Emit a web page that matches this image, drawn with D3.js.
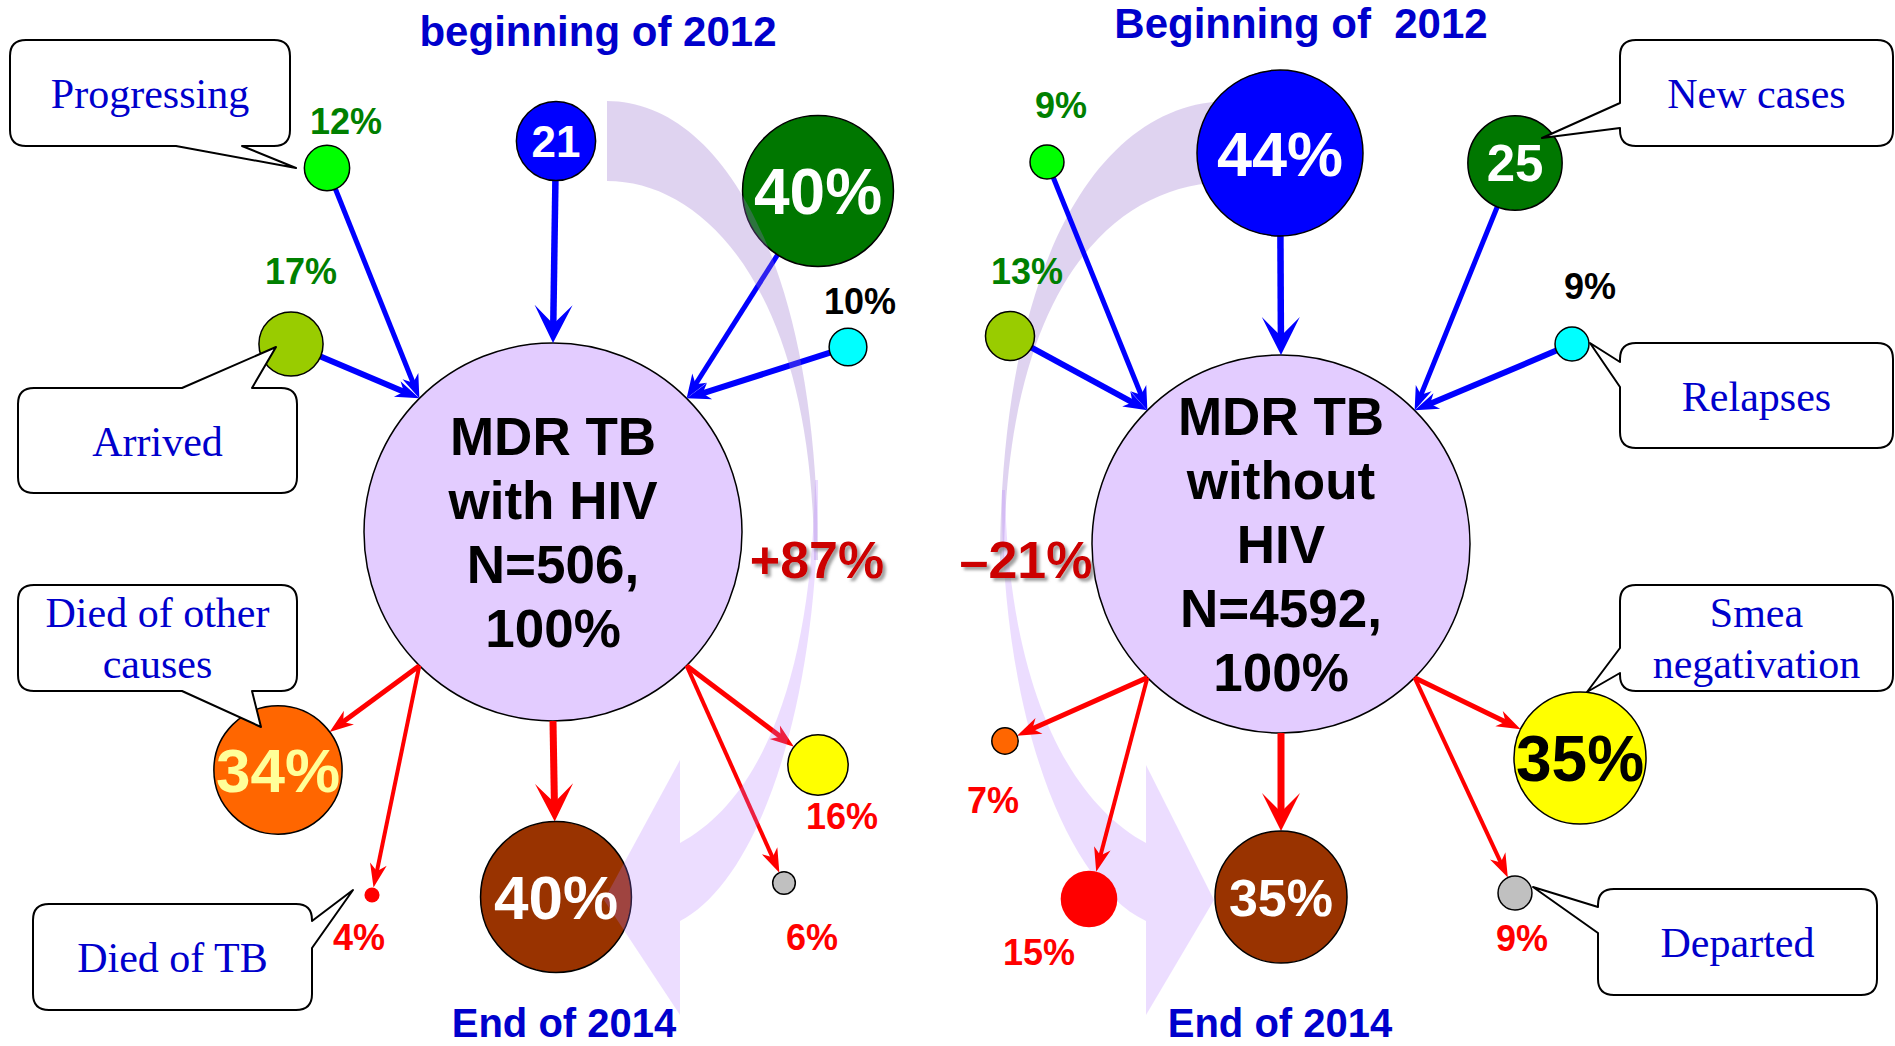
<!DOCTYPE html>
<html>
<head>
<meta charset="utf-8">
<script src="https://cdn.jsdelivr.net/npm/d3@7"></script>
<style>
body { margin: 0; background: #fff; }
svg { display: block; }
</style>
</head>
<body>
<svg id="chart" width="1895" height="1046"></svg>
<script>
//==================================================
// data
var centerText = [["MDR TB", "with HIV", "N=506,", "100%"],
                  ["MDR TB", "without", "HIV", "N=4592,", "100%"]];
var startTitles = ["beginning of 2012", "Beginning of  2012"];
var endTitles = ["End of 2014", "End of 2014"];
var changeText = ["+87%", "\u201321%"];

// flows into the cohort (order: progressing, arrived, at start, new cases, relapses)
var inCategories = ["Progressing", "Arrived", "At start", "New cases", "Relapses"];
var inHIV = [12, 17, 21, 40, 10];
var inNoHIV = [9, 13, 44, 25, 9];
var inHIVText = ["12%", "17%", "21", "40%", "10%"];
var inNoHIVText = ["9%", "13%", "44%", "25", "9%"];

// flows out of the cohort
var outCategories = ["Died of other\ncauses", "Died of TB", "Remaining", "Smea\nnegativation", "Departed"];
var outHIV = [34, 4, 40, 16, 6];
var outNoHIV = [7, 15, 35, 35, 9];
var outHIVText = ["34%", "4%", "40%", "16%", "6%"];
var outNoHIVText = ["7%", "15%", "35%", "35%", "9%"];

//==================================================
// layout + styles
var centers = [[553, 532], [1281, 544]];
var mainR = 189;
var inAttach = [-135, -135, -90, -45, -45];
var outAttach = [135, 135, 90, 45, 45];
var inPos = [[[-226, -364], [-262, -188], [3, -391], [265, -341], [295, -185]],
             [[-234, -382], [-271, -208], [-1, -391], [234, -381], [291, -200]]];
var outPos = [[[-275, 238], [-181, 363], [3, 365], [265, 233], [231, 351]],
              [[-276, 197], [-192, 355], [0, 353], [299, 214], [234, 349]]];
var inLbl = [[[19, -47], [10, -73], null, null, [12, -46]],
             [[14, -57], [17, -65], null, null, [18, -58]]];
var outLbl = [[null, [-13, 42], null, [24, 51], [28, 54]],
              [[-12, 59], [-50, 53], null, null, [7, 45]]];
var inFont = [[0, 0, 44, 64, 0], [0, 0, 63, 51, 0]];
var outFont = [[62, 0, 62, 0, 0], [0, 0, 52, 64, 0]];
var inWidth = [5, 6, 6.5, 5, 6];
var outWidth = [5, 4, 7, 5, 4];

var inFill = ["#00ff00", "#99cc00", "#0000ff", "#007700", "#00ffff"];
var outFill = ["#ff6600", "#ff0000", "#993300", "#ffff00", "#c0c0c0"];
var outStroke = ["#000", "none", "#000", "#000", "#000"];
var inLblColor = ["#008000", "#008000", "#fff", "#fff", "#000"];
var outLblColor = ["#ffff99", "#ff0000", "#fff", "#000", "#ff0000"];
var outsideOut = "#ff0000";
var changeX = [817, 1026];
var bandsOnTop = [true, false];

var bandTop = [
    {o: [[607, 101], [720, 101], [818, 260], [818, 560]], i: [[814, 560], [814, 300], [710, 181], [607, 181]]},
    {o: [[1230, 101], [1100, 101], [1000, 260], [1000, 565]], i: [[1004, 565], [1004, 300], [1105, 182], [1230, 182]]}
];
var bandLow = [
    {o: [[818, 480], [820, 700], [760, 880], [680, 921]], i: [[680, 843], [760, 800], [812, 680], [815, 480]],
     head: [[680, 760], [604, 900], [680, 1015]]},
    {o: [[1002, 490], [1000, 700], [1060, 880], [1146, 921]], i: [[1146, 843], [1066, 800], [1008, 680], [1005, 490]],
     head: [[1146, 765], [1214, 900], [1146, 1015]]}
];

var callouts = [
    {panel: 0, dir: "in", i: 0, box: [10, 40, 280, 106], side: "bottom", a: 176, b: 242, tip: [-31, 0]},
    {panel: 0, dir: "in", i: 1, box: [18, 388, 279, 105], side: "top", a: 182, b: 252, tip: [-15, 3]},
    {panel: 0, dir: "out", i: 0, box: [18, 585, 279, 106], side: "bottom", a: 182, b: 252, tip: [-17, -43]},
    {panel: 0, dir: "out", i: 1, box: [33, 904, 279, 106], side: "right", a: 921, b: 948, tip: [-19, -5]},
    {panel: 1, dir: "in", i: 3, box: [1620, 40, 273, 106], side: "left", a: 103, b: 128, tip: [27, -25]},
    {panel: 1, dir: "in", i: 4, box: [1620, 343, 273, 105], side: "left", a: 362, b: 387, tip: [18, -1]},
    {panel: 1, dir: "out", i: 3, box: [1620, 585, 273, 106], side: "left", a: 648, b: 673, tip: [7, -66]},
    {panel: 1, dir: "out", i: 4, box: [1598, 889, 279, 106], side: "left", a: 907, b: 933, tip: [18, -6]}
];

var sans = "'Liberation Sans', Arial, Helvetica, sans-serif";
var serif = "'Liberation Serif', 'Times New Roman', serif";
var blueText = "#0000cc";

//==================================================
var svg = d3.select("#chart");
var rScale = d3.scaleLinear().domain([0, 44]).range([0, 83]);

var defs = svg.append("defs");
defs.append("filter").attr("id", "shadow")
    .attr("x", "-20%").attr("y", "-30%").attr("width", "150%").attr("height", "170%")
    .append("feDropShadow")
    .attr("dx", 3).attr("dy", 3).attr("stdDeviation", 1.5)
    .attr("flood-color", "#777").attr("flood-opacity", 0.7);

svg.append("rect").attr("width", 1895).attr("height", 1046).attr("fill", "#fff");

var inVals = [inHIV, inNoHIV], inTexts = [inHIVText, inNoHIVText];
var outVals = [outHIV, outNoHIV], outTexts = [outHIVText, outNoHIVText];

function polar(c, deg, r) {
    var a = deg * Math.PI / 180;
    return [c[0] + r * Math.cos(a), c[1] + r * Math.sin(a)];
}

// build the node list from the arrays
var nodes = [];
[0, 1].forEach(function(p) {
    var c = centers[p];
    inVals[p].forEach(function(v, i) {
        nodes.push({panel: p, dir: "in", i: i, value: v, text: inTexts[p][i],
            x: c[0] + inPos[p][i][0], y: c[1] + inPos[p][i][1], r: rScale(v),
            fill: inFill[i], stroke: "#000", attach: polar(c, inAttach[i], mainR),
            width: inWidth[i], font: inFont[p][i], lbl: inLbl[p][i],
            color: inLblColor[i]});
    });
    outVals[p].forEach(function(v, i) {
        nodes.push({panel: p, dir: "out", i: i, value: v, text: outTexts[p][i],
            x: c[0] + outPos[p][i][0], y: c[1] + outPos[p][i][1], r: rScale(v),
            fill: outFill[i], stroke: outStroke[i], attach: polar(c, outAttach[i], mainR),
            width: outWidth[i], font: outFont[p][i], lbl: outLbl[p][i],
            color: v >= 20 ? outLblColor[i] : outsideOut});
    });
});

function arrow(g, s, t, color, w, big) {
    var dx = t[0] - s[0], dy = t[1] - s[1], len = Math.sqrt(dx * dx + dy * dy);
    var ux = dx / len, uy = dy / len, nx = -uy, ny = ux;
    var L = big ? 38 : 24, hw = big ? 19 : 8.5, notch = big ? 0.5 : 0.7;
    g.append("line")
        .attr("x1", s[0]).attr("y1", s[1])
        .attr("x2", t[0] - (notch - 0.08) * L * ux).attr("y2", t[1] - (notch - 0.08) * L * uy)
        .attr("stroke", color).attr("stroke-width", w);
    var p = d3.path();
    p.moveTo(t[0], t[1]);
    p.lineTo(t[0] - L * ux + hw * nx, t[1] - L * uy + hw * ny);
    p.lineTo(t[0] - notch * L * ux, t[1] - notch * L * uy);
    p.lineTo(t[0] - L * ux - hw * nx, t[1] - L * uy - hw * ny);
    p.closePath();
    g.append("path").attr("d", p.toString()).attr("fill", color);
}

function cubicPath(o, i) {
    var p = d3.path();
    p.moveTo(o[0][0], o[0][1]);
    p.bezierCurveTo(o[1][0], o[1][1], o[2][0], o[2][1], o[3][0], o[3][1]);
    p.lineTo(i[0][0], i[0][1]);
    p.bezierCurveTo(i[1][0], i[1][1], i[2][0], i[2][1], i[3][0], i[3][1]);
    p.closePath();
    return p.toString();
}

function drawBands(g, p) {
    g.append("path").attr("d", cubicPath(bandTop[p].o, bandTop[p].i))
        .attr("fill", "rgb(150,110,205)").attr("fill-opacity", 0.3);
    var low = g.append("g").attr("fill", "rgb(180,120,255)").attr("fill-opacity", 0.25);
    low.append("path").attr("d", cubicPath(bandLow[p].o, bandLow[p].i));
    var h = bandLow[p].head;
    low.append("path").attr("d", "M" + h.map(function(d) { return d.join(","); }).join("L") + "Z");
}

[0, 1].forEach(function(p) {
    var c = centers[p];
    var g = svg.append("g").attr("class", "panel");
    var bandG = g.append("g");
    if (!bandsOnTop[p]) drawBands(bandG, p);

    // big cohort circle
    g.append("circle").attr("cx", c[0]).attr("cy", c[1]).attr("r", mainR)
        .attr("fill", "#e3ccff").attr("stroke", "#000").attr("stroke-width", 1.5);

    var pn = nodes.filter(function(d) { return d.panel == p; });

    // arrows
    var ag = g.append("g");
    pn.forEach(function(d) {
        var ax = d.attach[0], ay = d.attach[1];
        var dx = d.x - ax, dy = d.y - ay, len = Math.sqrt(dx * dx + dy * dy);
        var edge = [d.x - d.r * dx / len, d.y - d.r * dy / len];
        if (d.dir == "in") arrow(ag, edge, d.attach, "#0000ff", d.width, d.i == 2);
        else arrow(ag, d.attach, edge, "#ff0000", d.width, d.i == 2);
    });

    // flow circles
    g.append("g").selectAll("circle").data(pn).enter().append("circle")
        .attr("cx", function(d) { return d.x; })
        .attr("cy", function(d) { return d.y; })
        .attr("r", function(d) { return d.r; })
        .attr("fill", function(d) { return d.fill; })
        .attr("stroke", function(d) { return d.stroke; })
        .attr("stroke-width", 1.5);

    if (bandsOnTop[p]) drawBands(g.append("g"), p);

    // values inside the large circles
    g.append("g").selectAll("text").data(pn.filter(function(d) { return d.value >= 20; }))
        .enter().append("text")
        .attr("x", function(d) { return d.x; })
        .attr("y", function(d) { return d.y + 0.36 * d.font; })
        .attr("text-anchor", "middle")
        .style("font-family", sans).style("font-weight", "bold")
        .style("font-size", function(d) { return d.font + "px"; })
        .attr("fill", function(d) { return d.color; })
        .text(function(d) { return d.text; });

    // values next to the small circles
    g.append("g").selectAll("text").data(pn.filter(function(d) { return d.value < 20; }))
        .enter().append("text")
        .attr("x", function(d) { return d.x + d.lbl[0]; })
        .attr("y", function(d) { return d.y + d.lbl[1] + 13; })
        .attr("text-anchor", "middle")
        .style("font-family", sans).style("font-weight", "bold").style("font-size", "36px")
        .attr("fill", function(d) { return d.color; })
        .text(function(d) { return d.text; });

    // cohort label
    var lines = centerText[p];
    g.append("g").selectAll("text").data(lines).enter().append("text")
        .attr("x", c[0])
        .attr("y", function(d, i) { return c[1] + (i - (lines.length - 1) / 2) * 64 + 19; })
        .attr("text-anchor", "middle")
        .style("font-family", sans).style("font-weight", "bold").style("font-size", "53px")
        .attr("fill", "#000")
        .text(function(d) { return d; });

    // change over the period
    g.append("text").attr("x", changeX[p]).attr("y", 578)
        .attr("text-anchor", "middle").attr("filter", "url(#shadow)")
        .style("font-family", sans).style("font-weight", "bold").style("font-size", "52px")
        .attr("fill", "#cc0000").text(changeText[p]);
});

// period titles
svg.selectAll(".start").data(startTitles).enter().append("text").attr("class", "start")
    .attr("x", function(d, i) { return [598, 1301][i]; })
    .attr("y", function(d, i) { return [46, 38][i]; })
    .attr("text-anchor", "middle").attr("xml:space", "preserve")
    .style("white-space", "pre")
    .style("font-family", sans).style("font-weight", "bold").style("font-size", "42px")
    .attr("fill", blueText).text(function(d) { return d; });

svg.selectAll(".end").data(endTitles).enter().append("text").attr("class", "end")
    .attr("x", function(d, i) { return [564, 1280][i]; })
    .attr("y", 1037)
    .attr("text-anchor", "middle")
    .style("font-family", sans).style("font-weight", "bold").style("font-size", "40px")
    .attr("fill", blueText).text(function(d) { return d; });

//==================================================
// speech bubbles with the category names
function bubble(b, side, a, c, tip) {
    var x = b[0], y = b[1], w = b[2], h = b[3], r = 16;
    var p = d3.path();
    p.moveTo(x + r, y);
    if (side == "top") { p.lineTo(a, y); p.lineTo(tip[0], tip[1]); p.lineTo(c, y); }
    p.lineTo(x + w - r, y);
    p.quadraticCurveTo(x + w, y, x + w, y + r);
    if (side == "right") { p.lineTo(x + w, a); p.lineTo(tip[0], tip[1]); p.lineTo(x + w, c); }
    p.lineTo(x + w, y + h - r);
    p.quadraticCurveTo(x + w, y + h, x + w - r, y + h);
    if (side == "bottom") { p.lineTo(c, y + h); p.lineTo(tip[0], tip[1]); p.lineTo(a, y + h); }
    p.lineTo(x + r, y + h);
    p.quadraticCurveTo(x, y + h, x, y + h - r);
    if (side == "left") { p.lineTo(x, c); p.lineTo(tip[0], tip[1]); p.lineTo(x, a); }
    p.lineTo(x, y + r);
    p.quadraticCurveTo(x, y, x + r, y);
    p.closePath();
    return p.toString();
}

var cg = svg.append("g");
callouts.forEach(function(co) {
    var node = nodes.filter(function(d) { return d.panel == co.panel && d.dir == co.dir && d.i == co.i; })[0];
    var tip = [node.x + co.tip[0], node.y + co.tip[1]];
    cg.append("path").attr("d", bubble(co.box, co.side, co.a, co.b, tip))
        .attr("fill", "#fff").attr("stroke", "#000").attr("stroke-width", 2)
        .attr("stroke-linejoin", "round");
    var name = (co.dir == "in" ? inCategories : outCategories)[co.i].split("\n");
    var cx = co.box[0] + co.box[2] / 2;
    var ys = name.length == 1 ? [co.box[1] + 68] : [co.box[1] + 42, co.box[1] + 93];
    name.forEach(function(t, k) {
        cg.append("text").attr("x", cx).attr("y", ys[k])
            .attr("text-anchor", "middle")
            .style("font-family", serif).style("font-size", "42px")
            .attr("fill", blueText).text(t);
    });
});
</script>
</body>
</html>
